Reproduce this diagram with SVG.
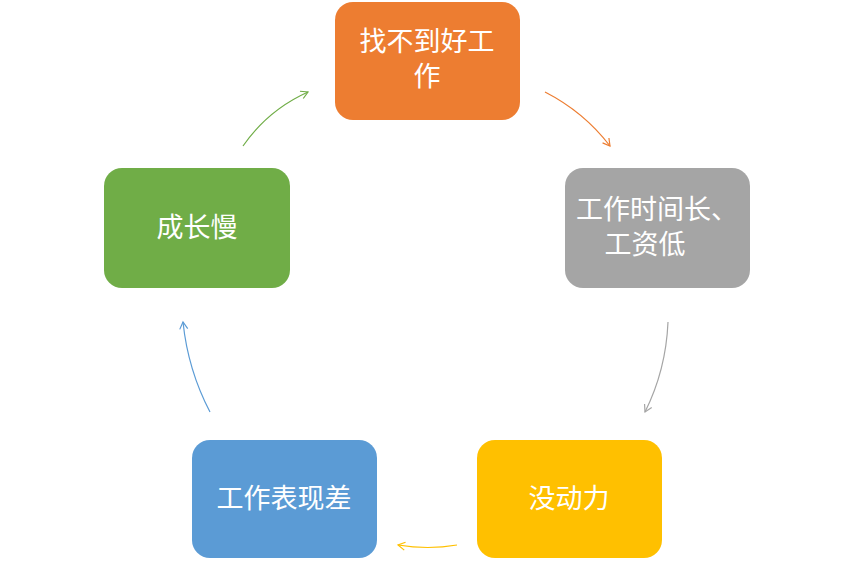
<svg xmlns="http://www.w3.org/2000/svg" width="854" height="568" viewBox="0 0 854 568">
<style>
.n{stroke:none}
.t{font-family:"Liberation Sans","Noto Sans CJK SC",sans-serif;font-size:27px;fill:#fff;text-anchor:middle}
.c{fill:none;stroke-width:1.2}
</style>
<defs>
<marker id="mo" markerWidth="10" markerHeight="10" refX="8" refY="5" orient="auto" markerUnits="userSpaceOnUse"><path d="M1,1 L8,5 L1,9" fill="none" stroke="#ED7D31" stroke-width="1.2"/></marker>
<marker id="mg" markerWidth="10" markerHeight="10" refX="8" refY="5" orient="auto" markerUnits="userSpaceOnUse"><path d="M1,1 L8,5 L1,9" fill="none" stroke="#A5A5A5" stroke-width="1.2"/></marker>
<marker id="my" markerWidth="10" markerHeight="10" refX="8" refY="5" orient="auto" markerUnits="userSpaceOnUse"><path d="M1,1 L8,5 L1,9" fill="none" stroke="#FFC000" stroke-width="1.2"/></marker>
<marker id="mb" markerWidth="10" markerHeight="10" refX="8" refY="5" orient="auto" markerUnits="userSpaceOnUse"><path d="M1,1 L8,5 L1,9" fill="none" stroke="#5B9BD5" stroke-width="1.2"/></marker>
<marker id="mgr" markerWidth="10" markerHeight="10" refX="8" refY="5" orient="auto" markerUnits="userSpaceOnUse"><path d="M1,1 L8,5 L1,9" fill="none" stroke="#70AD47" stroke-width="1.2"/></marker>
</defs>
<rect width="854" height="568" fill="#fff"/>
<g id="connectors">
<path class="c" stroke="#ED7D31" d="M545,92 Q584,112 610,146" marker-end="url(#mo)"/>
<path class="c" stroke="#A5A5A5" d="M668,322 Q666,370 645,412" marker-end="url(#mg)"/>
<path class="c" stroke="#FFC000" d="M457,545 Q428,550 398,545" marker-end="url(#my)"/>
<path class="c" stroke="#5B9BD5" d="M210,412 Q188,370 183,322" marker-end="url(#mb)"/>
<path class="c" stroke="#70AD47" d="M243,146 Q268,110 308,92" marker-end="url(#mgr)"/>
</g>
<g id="n1"><rect class="n" x="335" y="2" width="185" height="118" rx="18" fill="#ED7D31"/><text class="t" x="427" y="51">找不到好工</text><text class="t" x="427" y="86">作</text></g>
<g id="n2"><rect class="n" x="565" y="168" width="185" height="120" rx="18" fill="#A5A5A5"/><text class="t" x="657" y="219">工作时间长、</text><text class="t" x="645" y="254">工资低</text></g>
<g id="n3"><rect class="n" x="477" y="440" width="185" height="118" rx="18" fill="#FFC000"/><text class="t" x="569" y="508">没动力</text></g>
<g id="n4"><rect class="n" x="192" y="440" width="185" height="118" rx="18" fill="#5B9BD5"/><text class="t" x="284" y="508">工作表现差</text></g>
<g id="n5"><rect class="n" x="104" y="168" width="186" height="120" rx="18" fill="#70AD47"/><text class="t" x="197" y="237">成长慢</text></g>
</svg>
